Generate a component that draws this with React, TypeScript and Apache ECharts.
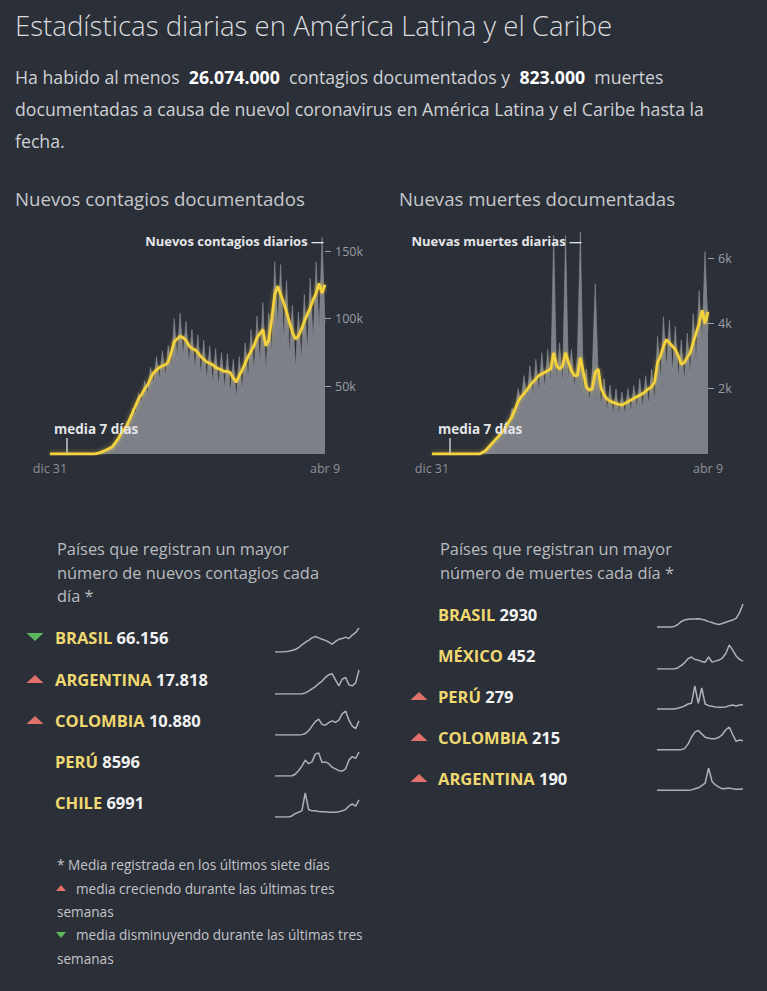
import React, { useEffect, useRef } from 'react';
import * as echarts from 'echarts';

// ---------- DATA ----------
// 94 samples, every 5 days, from 2019-12-31 to 2021-04-09
const N_POINTS = 94;
const DATES: string[] = Array.from({ length: N_POINTS }, (_, i) =>
  new Date(Date.UTC(2019, 11, 31 + i * 5)).toISOString().slice(0, 10)
);
const X_TICK_LABELS = ['dic 31', 'abr 9'];

// New cases (thousands)
const CASES_DAILY = [
  0, 0, 0, 0, 0, 0, 0, 0, 0, 0, 0, 0, 0, 0, 0, 0,
  1, 1.5, 3, 3, 5, 6, 9, 10, 17, 16, 24, 22, 34, 30, 45, 38, 54, 44, 64, 52, 72, 55, 76, 57,
  80, 64, 100, 70, 104, 72, 98, 66, 92, 62, 88, 58, 84, 55, 80, 52, 78, 50, 75, 48,
  74, 45, 70, 40, 72, 46, 82, 55, 92, 60, 102, 66, 112, 58, 104, 74, 142, 95, 140, 84,
  128, 72, 110, 62, 105, 68, 118, 74, 130, 82, 142, 90, 160, 96,
];
const CASES_MEAN = [
  0, 0, 0, 0, 0, 0, 0, 0, 0, 0, 0, 0, 0, 0, 0, 0,
  0.5, 1, 2, 3, 4, 5, 8, 11, 15, 18, 21, 26, 31, 36, 41, 44, 48, 51, 56, 60, 62, 64, 65, 66,
  68, 75, 83, 85, 87, 86, 84, 80, 78, 77, 75, 72, 70, 68, 67, 66, 64, 63, 62, 61,
  61, 60, 56, 53, 58, 62, 67, 72, 76, 80, 86, 89, 92, 80, 84, 100, 118, 124, 118, 112,
  105, 97, 90, 85, 87, 92, 98, 103, 108, 114, 119, 126, 119, 125,
];
const CASES_TICKS = [50, 100, 150];

// New deaths (thousands)
const DEATHS_DAILY = [
  0, 0, 0, 0, 0, 0, 0, 0, 0, 0, 0, 0, 0, 0, 0, 0, 0,
  0.05, 0.1, 0.2, 0.3, 0.45, 0.5, 0.7, 0.7, 1.0, 1.0, 1.4, 1.3, 2.0, 1.6, 2.4, 1.7, 2.7, 1.8, 2.9, 1.9, 3.1, 2.0,
  3.2, 2.1, 6.7, 2.2, 3.4, 2.1, 6.7, 2.2, 3.2, 2.0, 3.0, 6.8, 1.9, 2.6, 1.6, 2.5, 5.2, 2.4, 1.5, 2.3,
  1.3, 2.1, 1.2, 2.0, 1.2, 1.9, 1.2, 2.0, 1.3, 2.1, 1.4, 2.3, 1.4, 2.4, 1.5, 2.6, 1.6, 3.6, 2.2, 4.2,
  2.6, 4.1, 2.5, 3.9, 2.3, 3.5, 2.2, 3.7, 2.4, 4.3, 2.8, 5.0, 3.4, 6.2, 3.8,
];
const DEATHS_MEAN = [
  0, 0, 0, 0, 0, 0, 0, 0, 0, 0, 0, 0, 0, 0, 0, 0, 0,
  0.05, 0.1, 0.2, 0.3, 0.4, 0.5, 0.6, 0.7, 0.85, 1.0, 1.15, 1.38, 1.6, 1.75, 1.85, 1.96, 2.1, 2.2, 2.3, 2.4, 2.45, 2.5,
  2.55, 2.6, 3.1, 2.7, 2.6, 2.7, 3.1, 2.8, 2.55, 2.4, 2.4, 2.95, 2.5, 2.05, 1.95, 2.0, 2.5, 2.6, 2.0, 1.8,
  1.68, 1.62, 1.58, 1.55, 1.52, 1.5, 1.55, 1.6, 1.65, 1.7, 1.75, 1.8, 1.85, 1.92, 2.0, 2.05, 2.2, 2.8, 3.0, 3.3,
  3.5, 3.4, 3.3, 3.2, 3.0, 2.75, 2.8, 2.95, 3.1, 3.4, 3.7, 4.0, 4.4, 4.0, 4.35,
];
const DEATHS_TICKS = [2, 4, 6];

// Country lists
const CASES_COUNTRIES = ['BRASIL', 'ARGENTINA', 'COLOMBIA', 'PERÚ', 'CHILE'];
const CASES_VALUES = ['66.156', '17.818', '10.880', '8596', '6991'];
const CASES_TRENDS = ['down', 'up', 'up', '', ''];
const DEATHS_COUNTRIES = ['BRASIL', 'MÉXICO', 'PERÚ', 'COLOMBIA', 'ARGENTINA'];
const DEATHS_VALUES = ['2930', '452', '279', '215', '190'];
const DEATHS_TRENDS = ['', '', 'up', 'up', 'up'];

// Sparklines (relative shapes)
const SPARK_CASES_BRASIL = [0, 0, 0, 1, 2, 4, 7, 12, 20, 27, 33, 40, 44, 40, 36, 33, 28, 22, 30, 36, 38, 42, 38, 48, 55, 68];
const SPARK_CASES_ARGENTINA = [0, 0, 0, 0, 0, 0, 0, 0, 0, 3, 8, 14, 20, 28, 35, 45, 52, 55, 38, 22, 40, 45, 25, 22, 30, 65];
const SPARK_CASES_COLOMBIA = [0, 0, 0, 0, 0, 0, 0, 0, 1, 4, 12, 25, 38, 45, 30, 28, 35, 40, 36, 42, 60, 68, 42, 25, 18, 40];
const SPARK_CASES_PERU = [0, 0, 0, 0, 0, 0, 5, 15, 28, 45, 35, 40, 62, 65, 38, 40, 35, 25, 20, 15, 14, 20, 45, 55, 50, 68];
const SPARK_CASES_CHILE = [0, 0, 0, 0, 0, 3, 10, 14, 18, 70, 22, 18, 18, 16, 15, 15, 14, 14, 14, 15, 18, 22, 32, 38, 32, 50];
const SPARK_DEATHS_BRASIL = [3, 3, 3, 3, 3, 5, 10, 20, 25, 27, 28, 28, 29, 27, 24, 20, 17, 13, 11, 14, 18, 22, 25, 30, 48, 75];
const SPARK_DEATHS_MEXICO = [0, 0, 0, 0, 0, 0, 3, 10, 18, 30, 35, 28, 26, 22, 20, 35, 20, 23, 26, 32, 45, 70, 55, 38, 28, 23];
const SPARK_DEATHS_PERU = [3, 3, 3, 3, 3, 3, 5, 8, 12, 18, 20, 72, 20, 66, 18, 13, 11, 9, 8, 8, 9, 13, 15, 12, 15, 16];
const SPARK_DEATHS_COLOMBIA = [4, 4, 4, 4, 4, 4, 4, 4, 7, 20, 40, 55, 60, 50, 40, 37, 36, 36, 40, 48, 62, 70, 48, 28, 32, 30];
const SPARK_DEATHS_ARGENTINA = [5, 5, 5, 5, 5, 5, 5, 5, 5, 5, 6, 9, 12, 18, 25, 68, 30, 20, 14, 9, 10, 11, 9, 8, 8, 9];

const SPARKS_CASES = [SPARK_CASES_BRASIL, SPARK_CASES_ARGENTINA, SPARK_CASES_COLOMBIA, SPARK_CASES_PERU, SPARK_CASES_CHILE];
const SPARKS_DEATHS = [SPARK_DEATHS_BRASIL, SPARK_DEATHS_MEXICO, SPARK_DEATHS_PERU, SPARK_DEATHS_COLOMBIA, SPARK_DEATHS_ARGENTINA];

// ---------- STYLE / LAYOUT ----------
const BG = '#2b2f38';
const FONT = '"Open Sans", "Noto Sans", sans-serif';
const AXIS_GRAY = '#9a9da3';
const AREA_GRAY = '#7d8088';
const YELLOW = '#f3d23c';
const NAME_YELLOW = '#f0d870';
const RED = '#e2706b';
const GREEN = '#5cb85c';

const LEFT_ROWS_Y = [637, 679, 720, 761, 802];
const RIGHT_ROWS_Y = [614, 655, 696, 737, 778];

function text(x: number, y: number, t: string, o: any = {}) {
  const align = o.align || 'left';
  return {
    type: 'text',
    x,
    y,
    z: 50,
    silent: true,
    style: {
      text: t,
      fill: o.fill || '#d0d2d6',
      fontSize: o.size || 14,
      fontWeight: o.weight || 'normal',
      fontFamily: FONT,
      align,
      textAlign: align,
      verticalAlign: 'middle',
      textVerticalAlign: 'middle',
      rich: o.rich,
    },
  };
}

function tri(cx: number, cy: number, w: number, h: number, up: boolean, fill: string) {
  const pts = up
    ? [[cx - w / 2, cy + h / 2], [cx + w / 2, cy + h / 2], [cx, cy - h / 2]]
    : [[cx - w / 2, cy - h / 2], [cx + w / 2, cy - h / 2], [cx, cy + h / 2]];
  return { type: 'polygon', z: 50, silent: true, shape: { points: pts }, style: { fill } };
}

function buildOption() {
  const graphics: any[] = [];
  graphics.push(text(15, 25, 'Estadísticas diarias en América Latina y el Caribe', { size: 27.6, weight: 300, fill: '#d9dbde' }));
  const PS = 17.7;
  const rich = { b: { fontWeight: 'bold', fill: '#ffffff', fontSize: PS, fontFamily: FONT } };
  graphics.push(text(15, 77, 'Ha habido al menos  {b|26.074.000}  contagios documentados y  {b|823.000}  muertes', { size: PS, fill: '#cfd1d5', rich }));
  graphics.push(text(15, 109, 'documentadas a causa de nuevol coronavirus en América Latina y el Caribe hasta la', { size: PS, fill: '#cfd1d5' }));
  graphics.push(text(15, 141, 'fecha.', { size: PS, fill: '#cfd1d5' }));

  graphics.push(text(15, 198, 'Nuevos contagios documentados', { size: 18.7, fill: '#c6c8cc' }));
  graphics.push(text(399, 198, 'Nuevas muertes documentadas', { size: 18.6, fill: '#c6c8cc' }));

  graphics.push(text(324, 241, 'Nuevos contagios diarios —', { size: 13, weight: 'bold', fill: '#e4e5e7', align: 'right' }));
  graphics.push(text(582, 241, 'Nuevas muertes diarias —', { size: 13, weight: 'bold', fill: '#e4e5e7', align: 'right' }));
  graphics.push(text(54, 429, 'media 7 días', { size: 13.5, weight: 'bold', fill: '#e4e5e7' }));
  graphics.push(text(438, 429, 'media 7 días', { size: 13.5, weight: 'bold', fill: '#e4e5e7' }));
  graphics.push({ type: 'line', z: 50, silent: true, shape: { x1: 67, y1: 438, x2: 67, y2: 453 }, style: { stroke: '#c9cacd', lineWidth: 1.5 } });
  graphics.push({ type: 'line', z: 50, silent: true, shape: { x1: 450, y1: 438, x2: 450, y2: 453 }, style: { stroke: '#c9cacd', lineWidth: 1.5 } });

  const hdr = { size: 16.4, fill: '#b9bbbf' };
  graphics.push(text(57, 548, 'Países que registran un mayor', hdr));
  graphics.push(text(57, 572, 'número de nuevos contagios cada', hdr));
  graphics.push(text(57, 595, 'día *', hdr));
  graphics.push(text(440, 548, 'Países que registran un mayor', hdr));
  graphics.push(text(440, 572, 'número de muertes cada día *', hdr));

  const RS = 16.5;
  const rowRich = {
    n: { fontWeight: 'bold', fill: NAME_YELLOW, fontSize: RS, fontFamily: FONT },
    v: { fontWeight: 'bold', fill: '#f2f2f2', fontSize: RS, fontFamily: FONT },
  };
  CASES_COUNTRIES.forEach((c, i) => {
    const y = LEFT_ROWS_Y[i];
    graphics.push(text(55, y, `{n|${c}} {v|${CASES_VALUES[i]}}`, { size: RS, rich: rowRich }));
    if (CASES_TRENDS[i]) graphics.push(tri(35, y, 17, 8, CASES_TRENDS[i] === 'up', CASES_TRENDS[i] === 'up' ? RED : GREEN));
  });
  DEATHS_COUNTRIES.forEach((c, i) => {
    const y = RIGHT_ROWS_Y[i];
    graphics.push(text(438, y, `{n|${c}} {v|${DEATHS_VALUES[i]}}`, { size: RS, rich: rowRich }));
    if (DEATHS_TRENDS[i]) graphics.push(tri(419, y, 17, 8, DEATHS_TRENDS[i] === 'up', DEATHS_TRENDS[i] === 'up' ? RED : GREEN));
  });

  const fn = { size: 13.6, fill: '#c3c5c9' };
  graphics.push(text(57, 864, '* Media registrada en los últimos siete días', fn));
  graphics.push(tri(61, 888, 10, 6, true, RED));
  graphics.push(text(76, 888, 'media creciendo durante las últimas tres', fn));
  graphics.push(text(57, 911, 'semanas', fn));
  graphics.push(tri(61, 935, 10, 6, false, GREEN));
  graphics.push(text(76, 934, 'media disminuyendo durante las últimas tres', fn));
  graphics.push(text(57, 958, 'semanas', fn));

  const grids: any[] = [
    { left: 50, top: 251, width: 275, height: 203 },
    { left: 432, top: 258, width: 276, height: 196 },
  ];
  const xAxes: any[] = [];
  const yAxes: any[] = [];
  const series: any[] = [];

  const mainX = (gi: number) => ({
    type: 'category',
    gridIndex: gi,
    data: DATES,
    boundaryGap: false,
    axisLine: { show: false },
    axisTick: { show: false },
    axisLabel: {
      interval: (idx: number) => idx === 0 || idx === N_POINTS - 1,
      formatter: (_v: string, idx: number) => (idx === 0 ? X_TICK_LABELS[0] : X_TICK_LABELS[1]),
      color: '#8e9198',
      fontSize: 12.5,
      fontFamily: FONT,
      margin: 8,
    },
  });
  const mainY = (gi: number, max: number, ticks: number[]) => ({
    type: 'value',
    gridIndex: gi,
    position: 'right',
    min: 0,
    max,
    splitLine: { show: false },
    axisLine: { show: false },
    axisTick: { show: true, length: 6, lineStyle: { color: AXIS_GRAY }, customValues: ticks },
    axisLabel: { customValues: ticks, formatter: (v: number) => `${v}k`, color: AXIS_GRAY, fontSize: 12.5, fontFamily: FONT, margin: 10 },
  });
  xAxes.push(mainX(0), mainX(1));
  yAxes.push(mainY(0, 150, CASES_TICKS), mainY(1, 6, DEATHS_TICKS));

  const areaS = (i: number, data: number[]) => ({
    type: 'line', xAxisIndex: i, yAxisIndex: i, data, symbol: 'none', silent: true, z: 1, clip: false,
    lineStyle: { width: 0.6, color: '#8a8d95' },
    areaStyle: { color: AREA_GRAY, opacity: 1 },
  });
  const lineS = (i: number, data: number[]) => ({
    type: 'line', xAxisIndex: i, yAxisIndex: i, data, symbol: 'none', silent: true, z: 3,
    lineStyle: { color: YELLOW, width: 2.8, shadowColor: 'rgba(243,210,60,0.55)', shadowBlur: 4 },
  });
  series.push(areaS(0, CASES_DAILY), lineS(0, CASES_MEAN), areaS(1, DEATHS_DAILY), lineS(1, DEATHS_MEAN));

  const addSpark = (data: number[], left: number, top: number, width: number) => {
    const gi = grids.length;
    grids.push({ left, top, width, height: 24 });
    xAxes.push({ type: 'category', gridIndex: gi, show: false, boundaryGap: false, data: data.map((_, k) => k) });
    yAxes.push({ type: 'value', gridIndex: gi, show: false, min: 0, max: 'dataMax' });
    series.push({
      type: 'line', xAxisIndex: gi, yAxisIndex: gi, data, symbol: 'none', silent: true,
      lineStyle: { color: '#aeb1b6', width: 1.5 },
    });
  };
  SPARKS_CASES.forEach((d, i) => addSpark(d, 275, LEFT_ROWS_Y[i] - 9, 84));
  SPARKS_DEATHS.forEach((d, i) => addSpark(d, 657, RIGHT_ROWS_Y[i] - 10, 86));

  return {
    animation: false,
    backgroundColor: BG,
    textStyle: { fontFamily: FONT },
    grid: grids,
    xAxis: xAxes,
    yAxis: yAxes,
    series,
    graphic: { elements: graphics },
  };
}

export default function App() {
  const ref = useRef<HTMLDivElement>(null);
  useEffect(() => {
    document.body.style.margin = '0';
    document.body.style.background = BG;
    const chart = echarts.init(ref.current!, null, { renderer: 'svg' });
    chart.setOption(buildOption() as any);
    return () => chart.dispose();
  }, []);
  return <div ref={ref} style={{ width: 767, height: 991, background: BG }} />;
}
